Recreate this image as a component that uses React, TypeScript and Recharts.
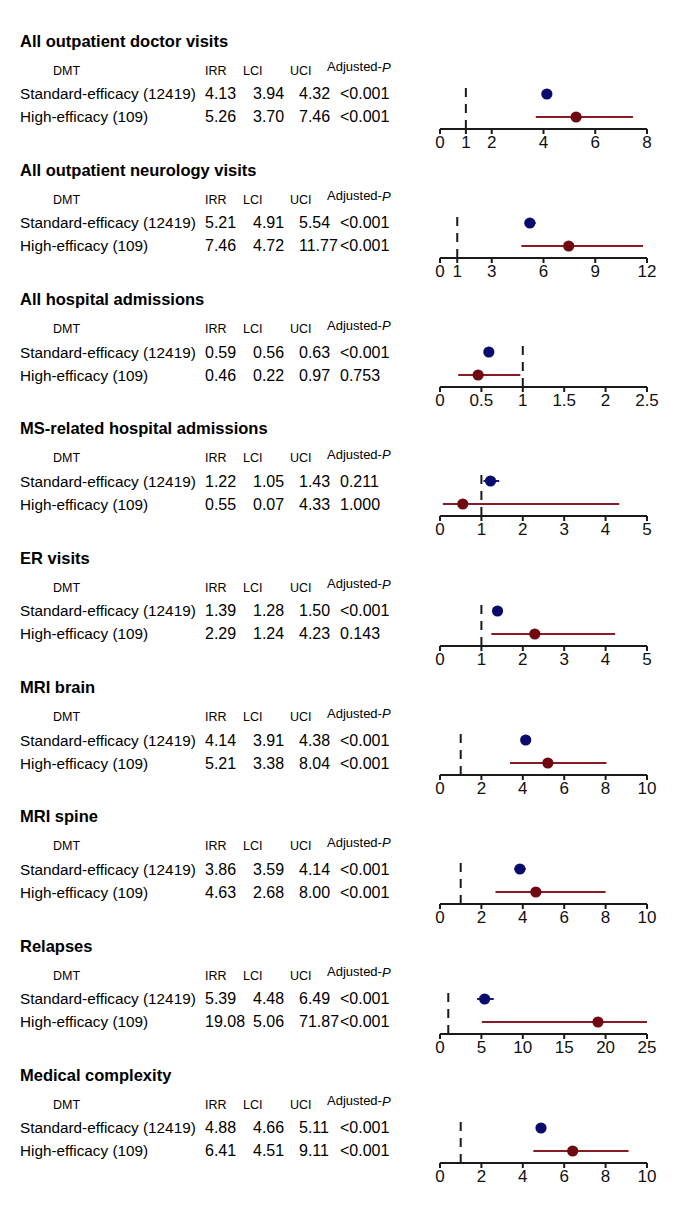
import React from "react";
import {
  ScatterChart, Scatter, XAxis, YAxis, ErrorBar, ReferenceLine,
} from "recharts";

// ── Data ────────────────────────────────────────────────────────────────────

const outcomes = [
  "All outpatient doctor visits",
  "All outpatient neurology visits",
  "All hospital admissions",
  "MS-related hospital admissions",
  "ER visits",
  "MRI brain",
  "MRI spine",
  "Relapses",
  "Medical complexity",
];

const groupLabels = ["Standard-efficacy (12419)", "High-efficacy (109)"];

const irrStandard = [4.13, 5.21, 0.59, 1.22, 1.39, 4.14, 3.86, 5.39, 4.88];
const lciStandard = [3.94, 4.91, 0.56, 1.05, 1.28, 3.91, 3.59, 4.48, 4.66];
const uciStandard = [4.32, 5.54, 0.63, 1.43, 1.50, 4.38, 4.14, 6.49, 5.11];
const pStandard = ["<0.001", "<0.001", "<0.001", "0.211", "<0.001", "<0.001", "<0.001", "<0.001", "<0.001"];

const irrHigh = [5.26, 7.46, 0.46, 0.55, 2.29, 5.21, 4.63, 19.08, 6.41];
const lciHigh = [3.70, 4.72, 0.22, 0.07, 1.24, 3.38, 2.68, 5.06, 4.51];
const uciHigh = [7.46, 11.77, 0.97, 4.33, 4.23, 8.04, 8.00, 71.87, 9.11];
const pHigh = ["<0.001", "<0.001", "0.753", "1.000", "0.143", "<0.001", "<0.001", "<0.001", "<0.001"];

const xMax = [8, 12, 2.5, 5, 5, 10, 10, 25, 10];
const xTicks = [
  [0, 1, 2, 4, 6, 8],
  [0, 1, 3, 6, 9, 12],
  [0, 0.5, 1, 1.5, 2, 2.5],
  [0, 1, 2, 3, 4, 5],
  [0, 1, 2, 3, 4, 5],
  [0, 2, 4, 6, 8, 10],
  [0, 2, 4, 6, 8, 10],
  [0, 5, 10, 15, 20, 25],
  [0, 2, 4, 6, 8, 10],
];

// ── Styling / layout ────────────────────────────────────────────────────────

const FONT = "'Liberation Sans', Arial, Helvetica, sans-serif";
const NAVY = "#0b0b6e";
const NAVY_LINE = "#1a1a78";
const MAROON = "#6f0a12";
const MAROON_LINE = "#871c24";
const FIRST_AXIS_Y = 128.5;
const PANEL_PITCH = 129.3;
const CHART_LEFT = 420;
const CHART_W = 250;
const CHART_H = 83;

const fmt = (v: number) => v.toFixed(2);

const Dot = (color: string) => (p: any) => (
  <circle cx={p.cx} cy={p.cy} r={5.6} fill={color} />
);

// CI whiskers are cut at the edge of the axis, as in the original figure
const ciRow = (irr: number, lci: number, uci: number, max: number, y: number) => ({
  x: irr,
  y,
  err: [irr - Math.max(lci, 0), Math.min(uci, max) - irr],
});

function ForestPanel({ i }: { i: number }) {
  const std = [ciRow(irrStandard[i], lciStandard[i], uciStandard[i], xMax[i], 2)];
  const high = [ciRow(irrHigh[i], lciHigh[i], uciHigh[i], xMax[i], 1)];
  return (
    <ScatterChart
      width={CHART_W}
      height={CHART_H}
      margin={{ top: 10, right: 23, left: 20, bottom: 0 }}
    >
      <XAxis
        type="number"
        dataKey="x"
        domain={[0, xMax[i]]}
        ticks={xTicks[i]}
        interval={0}
        allowDataOverflow
        height={30}
        tickSize={5}
        axisLine={{ stroke: "#1a1a1a", strokeWidth: 2 }}
        tickLine={{ stroke: "#1a1a1a", strokeWidth: 2 }}
        tick={{ fontSize: 17, fill: "#111", fontFamily: FONT }}
      />
      <YAxis type="number" dataKey="y" domain={[0.478, 2.348]} hide allowDataOverflow />
      <ReferenceLine x={1} stroke="#1a1a1a" strokeWidth={2} strokeDasharray="9 7" />
      <Scatter data={high} isAnimationActive={false} shape={Dot(MAROON)}>
        <ErrorBar dataKey="err" direction="x" width={0} stroke={MAROON_LINE} strokeWidth={2} isAnimationActive={false} />
      </Scatter>
      <Scatter data={std} isAnimationActive={false} shape={Dot(NAVY)}>
        <ErrorBar dataKey="err" direction="x" width={0} stroke={NAVY_LINE} strokeWidth={2} isAnimationActive={false} />
      </Scatter>
    </ScatterChart>
  );
}

function TableText({ i, axisY }: { i: number; axisY: number }) {
  const rows = [
    [fmt(irrStandard[i]), fmt(lciStandard[i]), fmt(uciStandard[i]), pStandard[i]],
    [fmt(irrHigh[i]), fmt(lciHigh[i]), fmt(uciHigh[i]), pHigh[i]],
  ];
  const rowY = [axisY - 35, axisY - 12];
  const colX = [205, 253, 299, 340];
  return (
    <g fontFamily={FONT} fill="#000">
      <text x={20} y={axisY - 88} fontSize={16.5} fontWeight="bold" dominantBaseline="central">
        {outcomes[i]}
      </text>
      <g fontSize={12.5} dominantBaseline="central">
        <text x={53} y={axisY - 58}>DMT</text>
        <text x={205} y={axisY - 58}>IRR</text>
        <text x={243} y={axisY - 58}>LCI</text>
        <text x={290} y={axisY - 58}>UCI</text>
        <text x={327} y={axisY - 62} fontSize={13}>
          Adjusted-<tspan fontStyle="italic">P</tspan>
        </text>
      </g>
      {rows.map((r, ri) => (
        <g key={ri} dominantBaseline="central">
          <text x={20} y={rowY[ri]} fontSize={15.3}>
            {groupLabels[ri]}
          </text>
          {r.map((cell, ci) => (
            <text key={ci} x={colX[ci]} y={rowY[ri]} fontSize={16}>
              {cell}
            </text>
          ))}
        </g>
      ))}
    </g>
  );
}

export default function App() {
  const axisYs = outcomes.map((_, i) => FIRST_AXIS_Y + i * PANEL_PITCH);
  return (
    <div style={{ position: "absolute", left: 0, top: 0, width: 690, height: 1205, background: "#fff" }}>
      <svg width={690} height={1205} style={{ position: "absolute", left: 0, top: 0 }}>
        {axisYs.map((a, i) => <TableText key={i} i={i} axisY={a} />)}
      </svg>
      {axisYs.map((a, i) => (
        <div key={i} style={{ position: "absolute", left: CHART_LEFT, top: a - 53 }}>
          <ForestPanel i={i} />
        </div>
      ))}
    </div>
  );
}
